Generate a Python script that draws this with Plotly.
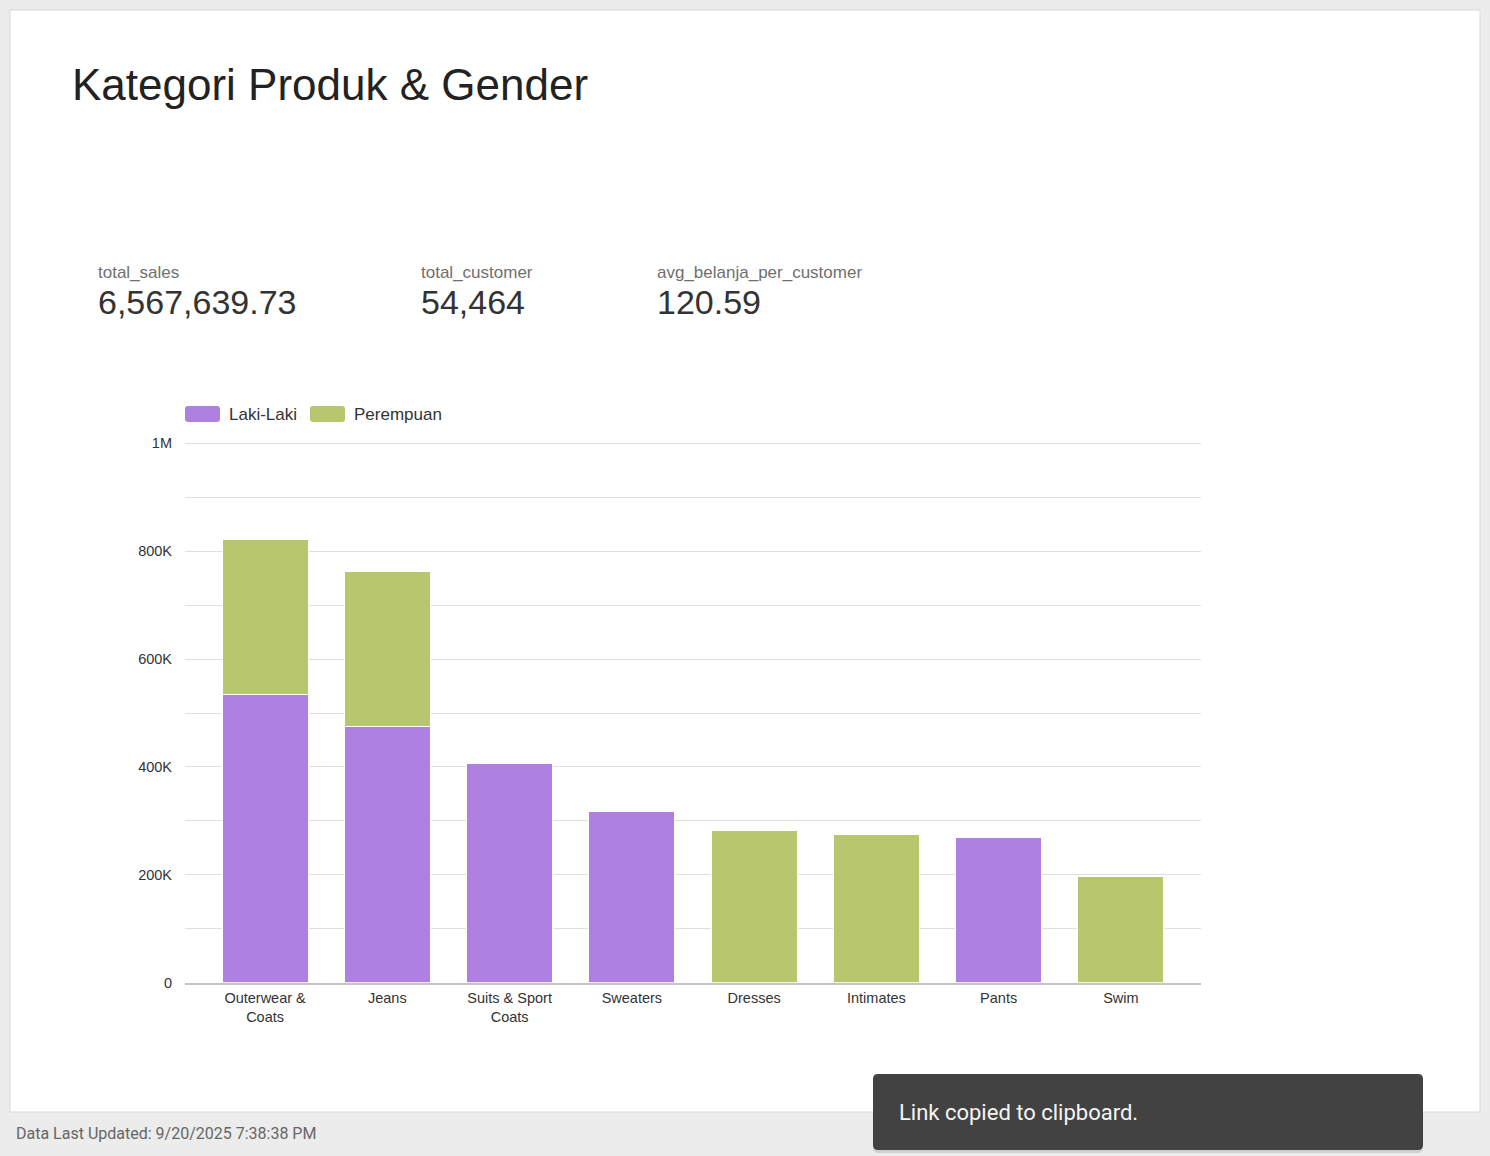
import plotly.graph_objects as go

# ---- data ----
categories = ["Outerwear &<br>Coats", "Jeans", "Suits & Sport<br>Coats", "Sweaters",
              "Dresses", "Intimates", "Pants", "Swim"]
laki_laki = [534000, 475000, 407000, 318000, None, None, 270000, None]
perempuan = [288000, 288000, None, None, 283000, 275000, None, 196000]
series_names = ["Laki-Laki", "Perempuan"]

y_tick_vals = [0, 100000, 200000, 300000, 400000, 500000, 600000, 700000, 800000, 900000, 1000000]
y_tick_text = ["0", "", "200K", "", "400K", "", "600K", "", "800K", "", "1M"]

score_labels = ["total_sales", "total_customer", "avg_belanja_per_customer"]
score_values = ["6,567,639.73", "54,464", "120.59"]

title_text = "Kategori Produk & Gender"
footer_text = "Data Last Updated: 9/20/2025 7:38:38 PM"
toast_text = "Link copied to clipboard."

# ---- styling ----
W, H = 1490, 1156
PURPLE = "#AE80E2"
GREEN = "#B8C76D"
SERIES_COLORS = [PURPLE, GREEN]
FONT = "Liberation Sans, Arial, sans-serif"
UI_FONT = "Roboto"


def px(x):
    return x / W


def py(y):
    return 1 - y / H


def rounded_rect(x0, y0, x1, y1, r):
    # pixel coords (top-left origin) -> paper path
    X0, X1 = px(x0), px(x1)
    Y0, Y1 = py(y1), py(y0)  # bottom, top in paper
    rx, ry = r / W, r / H
    return (f"M {X0 + rx},{Y0} L {X1 - rx},{Y0} Q {X1},{Y0} {X1},{Y0 + ry} "
            f"L {X1},{Y1 - ry} Q {X1},{Y1} {X1 - rx},{Y1} L {X0 + rx},{Y1} "
            f"Q {X0},{Y1} {X0},{Y1 - ry} L {X0},{Y0 + ry} Q {X0},{Y0} {X0 + rx},{Y0} Z")


fig = go.Figure()
fig.add_trace(go.Bar(name=series_names[0], x=categories, y=laki_laki,
                     marker=dict(color=PURPLE, line=dict(color="white", width=1))))
fig.add_trace(go.Bar(name=series_names[1], x=categories, y=perempuan,
                     marker=dict(color=GREEN, line=dict(color="white", width=1))))

shapes = [
    # white card
    dict(type="rect", xref="paper", yref="paper", x0=px(10), x1=px(1480), y0=py(1112), y1=py(10),
         fillcolor="white", line=dict(color="#d8d8d8", width=1), layer="below"),
    # toast shadow + toast
    dict(type="path", xref="paper", yref="paper", path=rounded_rect(873, 1076, 1423, 1153, 6),
         fillcolor="rgba(0,0,0,0.12)", line=dict(width=0), layer="above"),
    dict(type="path", xref="paper", yref="paper", path=rounded_rect(873, 1074, 1423, 1150, 5),
         fillcolor="#424242", line=dict(width=0), layer="above"),
]

annotations = [
    dict(text=title_text, x=px(70), y=py(85), xref="paper", yref="paper", xanchor="left",
         yanchor="middle", showarrow=False, font=dict(family=FONT, size=44, color="#222222")),
    dict(text=footer_text, x=px(14), y=py(1133), xref="paper", yref="paper", xanchor="left",
         yanchor="middle", showarrow=False, font=dict(family=UI_FONT, size=16, color="#666666")),
    dict(text=toast_text, x=px(897), y=py(1112), xref="paper", yref="paper", xanchor="left",
         yanchor="middle", showarrow=False, font=dict(family=UI_FONT, size=22, color="#f5f5f5")),
]
score_x = [96, 419, 655]
for lbl, val, sx in zip(score_labels, score_values, score_x):
    annotations.append(dict(text=lbl, x=px(sx), y=py(272), xref="paper", yref="paper",
                            xanchor="left", yanchor="middle", showarrow=False,
                            font=dict(family=FONT, size=17, color="#707070")))
    annotations.append(dict(text=val, x=px(sx), y=py(302), xref="paper", yref="paper",
                            xanchor="left", yanchor="middle", showarrow=False,
                            font=dict(family=FONT, size=34, color="#333333")))

# legend (swatch + label per series)
legend_swatch_x = [185, 310]
for name, color, lx in zip(series_names, SERIES_COLORS, legend_swatch_x):
    shapes.append(dict(type="path", xref="paper", yref="paper",
                       path=rounded_rect(lx, 406, lx + 35, 422, 3),
                       fillcolor=color, line=dict(width=0), layer="above"))
    annotations.append(dict(text=name, x=px(lx + 42), y=py(414), xref="paper", yref="paper",
                            xanchor="left", yanchor="middle", showarrow=False,
                            font=dict(family=FONT, size=17, color="#333333")))

Y_MAX = 1004000
y_top_px = 982.7 - 539.4 * Y_MAX / 1000000

fig.update_layout(
    width=W, height=H,
    margin=dict(l=0, r=0, t=0, b=0),
    paper_bgcolor="#ececec",
    plot_bgcolor="white",
    barmode="stack",
    bargap=0.297,
    font=dict(family=FONT, size=14.5, color="#333333"),
    showlegend=False,
    shapes=shapes,
    annotations=annotations,
    xaxis=dict(domain=[px(185), px(1201)], range=[-0.655, 7.655], showgrid=False,
               showline=True, linecolor="#c4c4c4", linewidth=2, ticks="", automargin=False,
               tickfont=dict(family=FONT, size=14.5, color="#333333"), ticklabelstandoff=1),
    yaxis=dict(domain=[py(982.7), py(y_top_px)], range=[0, Y_MAX], tickvals=y_tick_vals,
               ticktext=y_tick_text, showgrid=True, gridcolor="#e0e0e0", gridwidth=1,
               zeroline=False, showline=False, ticks="", automargin=False,
               tickfont=dict(family=FONT, size=14.5, color="#333333"), ticklabelstandoff=12),
)

fig.write_html("out.html")
